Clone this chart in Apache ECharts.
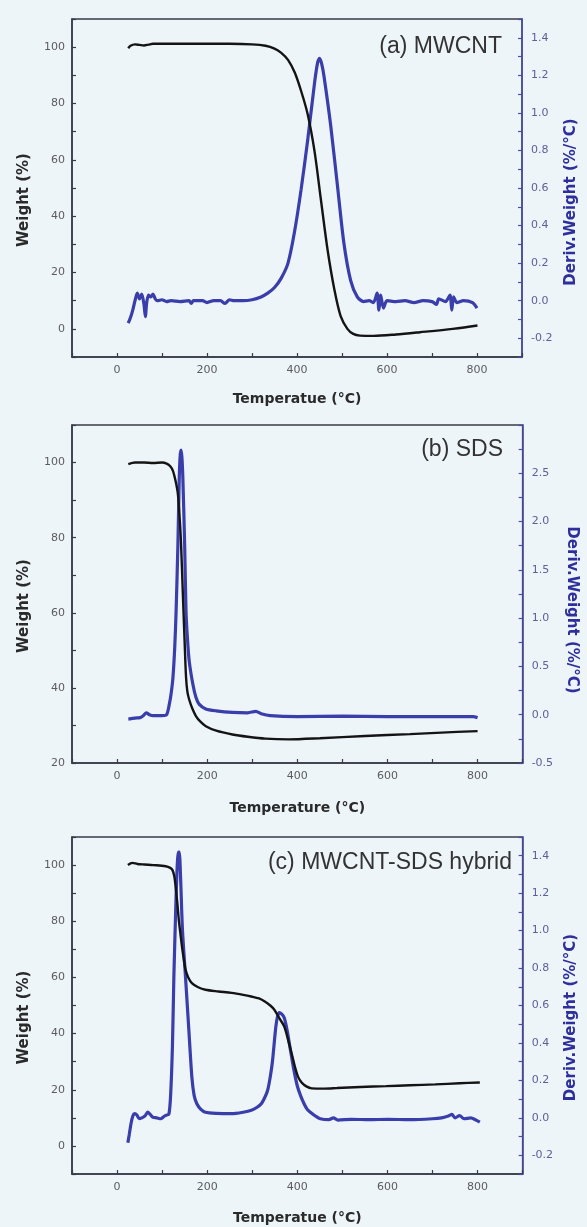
<!DOCTYPE html>
<html>
<head>
<meta charset="utf-8">
<script src="https://cdn.jsdelivr.net/npm/echarts@6/dist/echarts.min.js"></script>
<style>
html,body{margin:0;padding:0;background:#edf5f9;}
#chart{width:587px;height:1227px;}
</style>
</head>
<body>
<div id="chart"></div>
<script>
// ---- Data: [temperature (°C), value] ----
const panelTitles = ['(a) MWCNT', '(b) SDS', '(c) MWCNT-SDS hybrid'];
const xAxisNames = ['Temperatue (°C)', 'Temperature (°C)', 'Temperatue (°C)'];
const leftAxisName = 'Weight (%)';
const rightAxisName = 'Deriv.Weight (%/°C)';

const mwcntWeight = [[25,99.6],[30,100.5],[40,101],[50,100.8],[60,100.6],[70,100.9],[80,101.2],[100,101.2],[150,101.2],[200,101.2],[250,101.2],[300,101],[330,100.5],[350,99.5],[365,98],[380,95.5],[395,91],[410,84],[424,76],[439,63],[453,46],[468,28],[483,14],[497,4.5],[512,0],[525,-1.8],[540,-2.4],[570,-2.5],[620,-2],[673,-1.2],[746,0],[801,1.2]];
const mwcntDeriv = [[25,-0.12],[30,-0.09],[35,-0.05],[40,0.0],[45,0.04],[50,0.01],[55,0.035],[60,-0.02],[63,-0.085],[66,-0.01],[70,0.03],[75,0.02],[80,0.035],[85,0.01],[90,0.0],[100,0.005],[110,-0.005],[120,0.0],[140,-0.005],[160,0.0],[165,-0.015],[170,0.0],[190,0.0],[200,-0.01],[215,0.0],[230,0.0],[240,-0.015],[250,0.005],[260,0.0],[280,0.0],[300,0.005],[320,0.02],[335,0.04],[350,0.07],[365,0.12],[380,0.2],[394,0.36],[409,0.59],[424,0.86],[439,1.16],[446,1.27],[450,1.29],[455,1.26],[460,1.195],[475,0.93],[490,0.61],[504,0.31],[519,0.11],[534,0.02],[548,-0.005],[560,0.0],[570,-0.01],[578,0.04],[582,-0.05],[586,0.03],[592,-0.04],[600,0.0],[620,-0.005],[640,0.0],[660,-0.01],[680,0.0],[700,-0.005],[710,-0.02],[715,0.01],[730,-0.005],[740,0.03],[744,-0.05],[748,0.02],[755,-0.01],[770,0.0],[790,-0.01],[800,-0.04]];

const sdsWeight = [[25,99.6],[40,100],[60,100],[80,99.9],[100,100],[110,99.7],[118,99],[124,97.8],[130,95],[135,91.6],[139,85],[142,78.4],[146,65],[150,52],[153,43],[156,39],[160,36.9],[167,34.5],[175,32.5],[185,31],[197,29.8],[220,28.6],[256,27.6],[290,27],[329,26.5],[380,26.3],[450,26.6],[550,27.2],[650,27.7],[720,28.1],[800,28.5]];
const sdsDeriv = [[25,-0.045],[40,-0.035],[51,-0.03],[58,-0.01],[65,0.02],[72,0.0],[80,-0.01],[100,-0.01],[110,0.0],[116,0.11],[120,0.22],[124,0.385],[128,0.7],[131,1.07],[135,1.76],[138,2.45],[140,2.68],[142,2.74],[144,2.66],[146,2.45],[150,1.76],[153,1.07],[156,0.8],[160,0.56],[168,0.32],[175,0.18],[182,0.11],[197,0.06],[220,0.04],[256,0.024],[290,0.02],[308,0.035],[320,0.01],[340,-0.01],[400,-0.02],[500,-0.015],[600,-0.02],[700,-0.02],[790,-0.02],[800,-0.03]];

const hybridWeight = [[24,100],[30,100.6],[34,100.8],[45,100.4],[60,100.2],[80,100],[108,99.6],[118,99],[123,98.2],[127,96],[130,92.3],[134,86],[137,80.5],[141,75],[145,69.8],[149,65.5],[152,62.7],[158,60],[166,58],[180,56.5],[196,55.6],[225,55],[254,54.5],[280,53.8],[298,53.2],[315,52.5],[327,51.5],[340,50],[349,48.5],[360,45.5],[371,42.5],[380,37.5],[388,32.5],[395,28],[402,24.5],[410,22.5],[420,21.2],[432,20.5],[460,20.4],[488,20.6],[540,21],[597,21.3],[650,21.6],[706,21.9],[760,22.3],[805,22.6]];
const hybridDeriv = [[24,-0.133],[27,-0.09],[31,-0.03],[35,0.01],[39,0.022],[44,0.015],[49,-0.005],[55,0.0],[62,0.01],[68,0.03],[73,0.02],[79,0.004],[88,0.0],[97,-0.005],[103,0.005],[108,0.013],[115,0.02],[119,0.128],[123,0.394],[126,0.748],[130,1.10],[133,1.32],[136,1.42],[138,1.42],[141,1.28],[145,1.01],[152,0.748],[159,0.48],[166,0.217],[171,0.12],[177,0.075],[186,0.045],[196,0.03],[220,0.024],[254,0.022],[280,0.03],[298,0.04],[310,0.055],[320,0.075],[328,0.11],[334,0.146],[340,0.22],[345,0.305],[352,0.48],[356,0.54],[360,0.562],[365,0.555],[371,0.535],[378,0.46],[385,0.358],[392,0.26],[400,0.17],[407,0.12],[415,0.075],[422,0.045],[429,0.03],[440,0.01],[451,-0.005],[470,-0.01],[480,0.0],[490,-0.012],[520,-0.008],[560,-0.01],[600,-0.008],[650,-0.01],[700,-0.005],[720,0.0],[735,0.01],[743,0.018],[750,0.0],[760,0.012],[770,-0.005],[785,0.0],[795,-0.01],[805,-0.023]];

const xLabels = [0, 200, 400, 600, 800];
const leftLabelsA = [0, 20, 40, 60, 80, 100];
const leftLabelsB = [20, 40, 60, 80, 100];
const rightLabelsA = [-0.2, 0.0, 0.2, 0.4, 0.6, 0.8, 1.0, 1.2, 1.4];
const rightLabelsB = [-0.5, 0.0, 0.5, 1.0, 1.5, 2.0, 2.5];

// ---- Styling / layout ----
const BLUE = '#3a3eab';
const BLACK = '#141414';
const AXIS_DARK = '#3a3a48';
const AXIS_BLUE = '#4a4ea8';
const FONT = 'DejaVu Sans';

const grids = [
  {left:72, top:19, width:454, height:338},
  {left:72, top:425, width:454, height:338},
  {left:72, top:837, width:457, height:337}
];

function inList(list, v, dec){
  return list.some(t => Math.abs(t - v) < Math.pow(10, -dec-1) * 5);
}

const xNameGap = [35, 38, 37];
const rightGap = [42, 38, 41];
const rightRotate = [90, -90, 90];
const rightPad = [[0,28,0,0],[0,0,0,32],[0,24,0,0]];

const xAxes = [], yAxes = [], series = [], graphics = [];
grids.forEach((g, i) => {
  xAxes.push({
    type:'value', gridIndex:i, min:-100, max:900, interval:100,
    name: xAxisNames[i], nameLocation:'middle', nameGap: xNameGap[i],
    nameTextStyle:{fontFamily:FONT, fontWeight:'bold', fontSize:14, color:'#2a2a2a'},
    axisLine:{show:true, onZero:false, lineStyle:{color:AXIS_DARK, width:1.5}},
    axisTick:{show:true, inside:true, length:4, lineStyle:{color:AXIS_DARK, width:1.2}},
    axisLabel:{margin:8, fontFamily:FONT, fontSize:11, color:'#5c5c5c',
      formatter: v => inList(xLabels, v, 0) ? String(Math.round(v)) : ''},
    splitLine:{show:false}
  });
  const isB = i === 1;
  yAxes.push({
    type:'value', gridIndex:i, position:'left',
    min: isB ? 20 : -10, max:110, interval:10,
    name: leftAxisName, nameLocation:'middle', nameGap:40,
    nameTextStyle:{fontFamily:FONT, fontWeight:'bold', fontSize:15, color:'#2a2a2a', padding:[0,24,0,0]},
    axisLine:{show:true, onZero:false, lineStyle:{color:AXIS_DARK, width:1.5}},
    axisTick:{show:true, inside:true, length:4, lineStyle:{color:AXIS_DARK, width:1.2}},
    axisLabel:{margin:7, fontFamily:FONT, fontSize:11, color:'#5c5c5c',
      formatter: v => inList(isB ? leftLabelsB : leftLabelsA, v, 0) ? String(Math.round(v)) : ''},
    splitLine:{show:false}
  });
  yAxes.push({
    type:'value', gridIndex:i, position:'right',
    min: isB ? -0.5 : -0.3, max: isB ? 3.0 : 1.5, interval: isB ? 0.25 : 0.1,
    name: rightAxisName, nameLocation:'middle', nameGap: rightGap[i], nameRotate: rightRotate[i],
    nameTextStyle:{fontFamily:FONT, fontWeight:'bold', fontSize:15, color:'#2e2f9c', padding: rightPad[i]},
    axisLine:{show:true, onZero:false, lineStyle:{color:AXIS_BLUE, width:1.5}},
    axisTick:{show:true, inside:true, length:4, lineStyle:{color:AXIS_BLUE, width:1.2}},
    axisLabel:{margin:9, fontFamily:FONT, fontSize:11, color:'#5d5f98',
      formatter: v => inList(isB ? rightLabelsB : rightLabelsA, v, 2) ? v.toFixed(1) : ''},
    splitLine:{show:false}
  });
});

const weightSets = [mwcntWeight, sdsWeight, hybridWeight];
const derivSets = [mwcntDeriv, sdsDeriv, hybridDeriv];
for (let i = 0; i < 3; i++) {
  series.push({
    type:'line', xAxisIndex:i, yAxisIndex:2*i+1, data: derivSets[i],
    showSymbol:false, smooth:0.25, lineStyle:{color:BLUE, width:3.2}, z:2
  });
  series.push({
    type:'line', xAxisIndex:i, yAxisIndex:2*i, data: weightSets[i],
    showSymbol:false, smooth:0.3, lineStyle:{color:BLACK, width:2.4}, z:3
  });
}

const titlePos = [[502,47],[503,450],[512,863]];
panelTitles.forEach((t, i) => {
  graphics.push({
    type:'text', x:titlePos[i][0], y:titlePos[i][1], z:10,
    style:{text:t, fill:'#333', font:'23px "Liberation Sans", Arial, sans-serif',
      textAlign:'right', textVerticalAlign:'middle'}
  });
});

const chart = echarts.init(document.getElementById('chart'), null, {renderer:'canvas'});
chart.setOption({
  backgroundColor:'#edf5f9',
  animation:false,
  grid: grids.map(g => Object.assign({show:true, borderColor:AXIS_DARK, borderWidth:1.5, backgroundColor:'transparent'}, g)),
  xAxis: xAxes,
  yAxis: yAxes,
  series: series,
  graphic: graphics
});
</script>
</body>
</html>
